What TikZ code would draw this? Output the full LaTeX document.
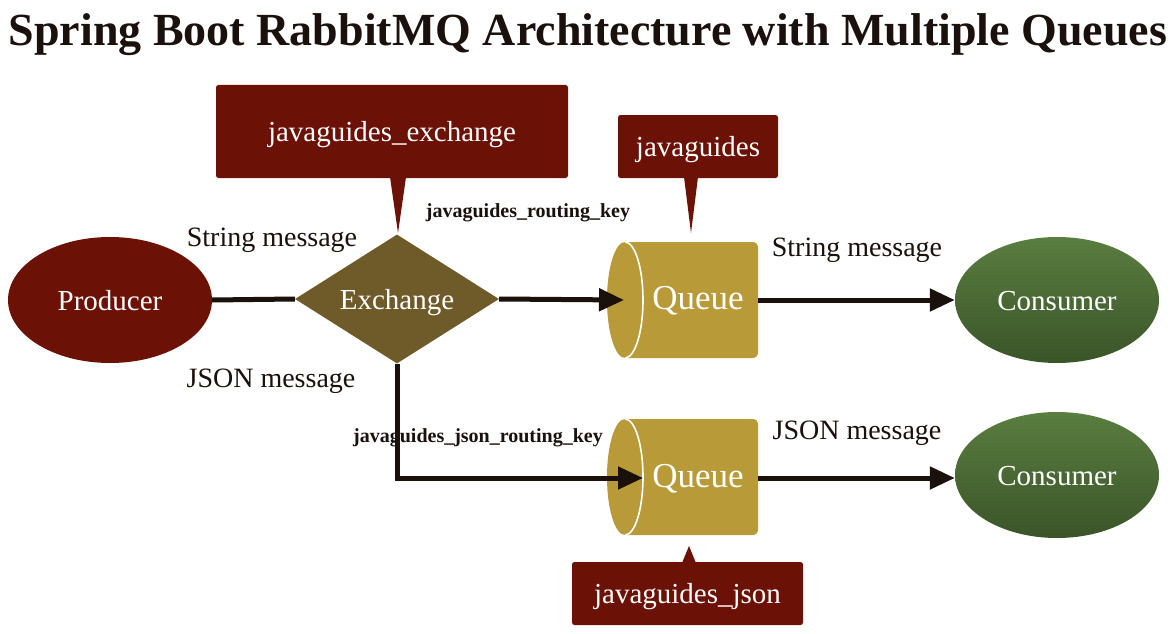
\documentclass[tikz,border=0pt]{standalone}
\usepackage{fontspec}
\setmainfont{Liberation Serif}
\usetikzlibrary{shapes.geometric,arrows.meta}
\definecolor{dred}{HTML}{6B1105}
\definecolor{exolive}{HTML}{6F5B2A}
\definecolor{qgold}{HTML}{B89A38}
\definecolor{cgreenT}{HTML}{5A7D40}
\definecolor{cgreenB}{HTML}{3A5428}
\definecolor{ink}{HTML}{1A100C}
\newcommand\QueueShape[1]{%
  \begin{scope}[shift={(0,#1)}]
    \fill[qgold] (625,-58) -- (752,-58) .. controls (756,-58) and (758,-56) .. (758,-52)
      -- (758,52) .. controls (758,56) and (756,58) .. (752,58) -- (625,58) -- cycle;
    \fill[qgold] (625,0) ellipse [x radius=18pt, y radius=58pt];
    \draw[white, line width=1.6pt] (625,-58) arc [start angle=90, end angle=-90, x radius=18pt, y radius=58pt];
  \end{scope}}
\begin{document}
\begin{tikzpicture}[x=1pt,y=-1pt,
  wtext/.style={text=white,font=\fontsize{29}{32}\selectfont,text height=21pt,text depth=1pt},
  lbl/.style={text=ink,font=\fontsize{28}{32}\selectfont,anchor=base},
  keylbl/.style={text=ink,font=\bfseries\fontsize{20}{24}\selectfont,anchor=base},
  conn/.style={draw=ink,line width=5pt},
  arr/.style={conn,-{Triangle[length=25pt,width=22pt]}},
  callout/.style={fill=dred,rounded corners=2.5pt,inner sep=0pt,wtext},
  ellnode/.style={ellipse,minimum width=204pt,minimum height=126pt,inner sep=0pt,wtext},
]
\useasboundingbox (0,0) rectangle (1176,634);
\fill[white] (0,0) rectangle (1176,634);

% title
\node[anchor=base,text=ink,font=\bfseries\fontsize{46}{50}\selectfont,inner sep=0pt] (title) at (588,46)
  {Spring Boot RabbitMQ Architecture with Multiple Queues};

% queues
\QueueShape{300}
\QueueShape{477}
\node[anchor=base,text=white,font=\fontsize{35}{40}\selectfont,inner sep=0pt] (q1) at (698,309) {Queue};
\node[anchor=base,text=white,font=\fontsize{35}{40}\selectfont,inner sep=0pt] (q2) at (698,487) {Queue};
\coordinate (q1in) at (624,300);
\coordinate (q1out) at (758,300);
\coordinate (q2in) at (643,478);
\coordinate (q2out) at (758,478);

% main nodes
\node[ellnode,fill=dred] (prod) at (110,300) {Producer};
\node[diamond,aspect=1.6,fill=exolive,minimum width=204pt,minimum height=129pt,inner sep=0pt,wtext] (ex) at (397,299) {Exchange};
\node[ellnode,top color=cgreenT,bottom color=cgreenB] (c1) at (1057,300) {Consumer};
\node[ellnode,top color=cgreenT,bottom color=cgreenB] (c2) at (1057,475) {Consumer};

% callouts
\node[callout,minimum width=352pt,minimum height=93pt] (cx) at (392,131.5) {javaguides\_exchange};
\fill[dred] (390,177) -- (398,233) -- (406,177) -- cycle;
\node[callout,minimum width=160pt,minimum height=63pt] (cq1) at (698,146.5) {javaguides};
\fill[dred] (684,177) -- (691,233) -- (698,177) -- cycle;
\node[callout,minimum width=231pt,minimum height=63pt] (cq2) at (687.5,593.5) {javaguides\_json};
\fill[dred] (682,563) -- (689,546) -- (696,563) -- cycle;

% connectors
\draw[conn] (prod.east) -- (ex.west);
\draw[arr] (ex.east) -- (q1in);
\draw[arr,line join=miter] (ex.south) -- (ex.south |- q2in) -- (q2in);
\draw[arr] (q1out) -- (c1.west);
\draw[arr] (q2out) -- (c2.west |- q2out);

% labels
\node[lbl] (sm1) at (272,246) {String message};
\node[lbl] (jm1) at (271,387) {JSON message};
\node[lbl] (sm2) at (857,256) {String message};
\node[lbl] (jm2) at (857,439) {JSON message};
\node[keylbl] (rk1) at (528,217) {javaguides\_routing\_key};
\node[keylbl] (rk2) at (478,442) {javaguides\_json\_routing\_key};
\end{tikzpicture}
\end{document}
